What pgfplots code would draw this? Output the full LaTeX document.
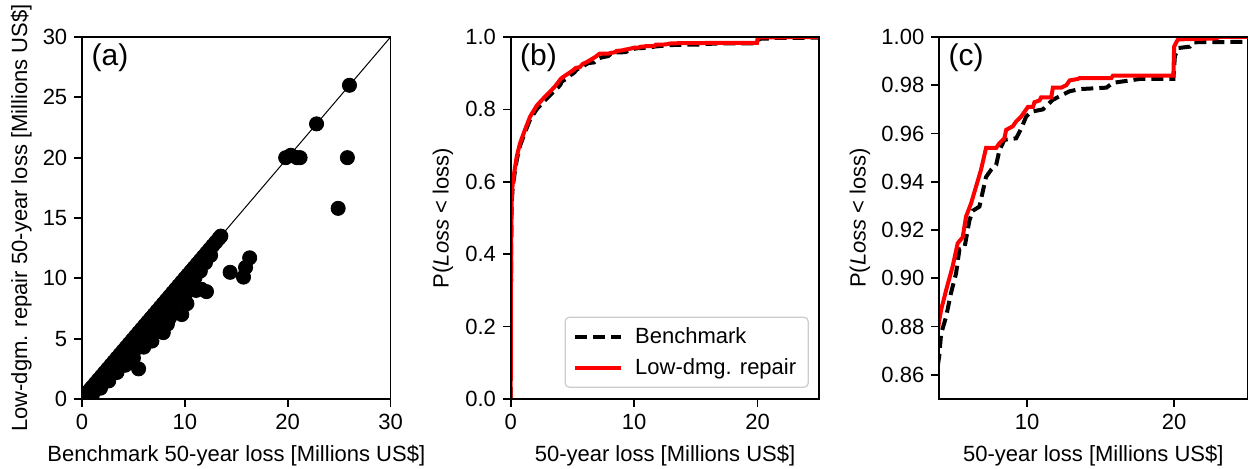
\documentclass[border=0pt]{standalone}
\usepackage{fontspec}
\setmainfont{Liberation Sans}
\usepackage{pgfplots}
\usepackage{pgfplotstable}
\pgfplotsset{compat=1.18}

\pgfplotstableread{
x y
0 0
0.2 0.2
0.4 0.4
0.6 0.6
0.8 0.8
1 1
1.3 1.3
1.6 1.6
1.9 1.9
2.2 2.2
2.5 2.5
2.8 2.8
3.1 3.1
3.4 3.4
3.7 3.7
4 4
4.3 4.3
4.6 4.6
4.9 4.9
5.2 5.2
5.5 5.5
5.8 5.8
6.1 6.1
6.4 6.4
6.7 6.7
7 7
7.3 7.3
7.6 7.6
7.9 7.9
8.2 8.2
8.5 8.5
8.8 8.8
9.1 9.1
9.4 9.4
9.7 9.7
10 10
10.3 10.3
10.6 10.6
10.9 10.9
11.2 11.2
11.5 11.5
11.8 11.8
12.1 12.1
12.4 12.4
12.7 12.7
13 13
13.3 13.3
13.5 13.5
0.5 0.4
1 0.9
1.5 1.35
2 1.8
2.5 2.25
3 2.7
3.5 3.15
4 3.6
4.5 4.05
5 4.5
5.5 4.95
6 5.4
6.5 5.85
7 6.3
7.5 6.75
8 7.2
8.5 7.65
9 8.1
9.5 8.6
10 9.1
10.5 9.5
11 10.1
11.5 10.6
12 11.3
12.5 11.9
1 0.6
1.5 1.1
2 1.5
2.5 1.9
3 2.3
3.5 2.7
4 3.1
4.5 3.5
5 3.9
5.5 4.3
6 4.7
6.5 5.1
7 5.5
7.5 5.9
8 6.3
8.5 6.7
9 7.2
0.6 0.1
1 0.3
1.8 0.9
2.6 1.5
3.4 2.2
4.2 2.8
5 3.4
6 4.3
6.8 4.8
7.9 5.5
8.3 6.2
5.5 2.5
9.7 7.0
10.2 7.9
10.0 8.5
11.1 9.0
12.1 8.9
11.6 9.1
14.4 10.5
15.7 10.1
15.9 10.9
16.3 11.7
19.8 20
20.3 20.2
20.9 20
21.2 20
22.8 22.8
26 26
25.8 20
24.9 15.8
}\scatterdata

\pgfplotstableread{
x y
0 0
0.02 0.3
0.05 0.48
0.08 0.54
0.15 0.58
0.22 0.60
0.35 0.63
0.49 0.66
0.76 0.70
1.16 0.737
1.57 0.772
2.1 0.80
2.5 0.815
2.92 0.83
3.3 0.843
3.6 0.853
3.9 0.863
4.02 0.868
4.14 0.877
4.48 0.884
4.82 0.894
5.16 0.902
5.39 0.912
5.73 0.9125
6.07 0.924
6.30 0.928
6.75 0.9297
7.2 0.942
7.55 0.945
7.89 0.947
8.11 0.953
8.45 0.9574
9.25 0.958
9.59 0.962
9.93 0.967
10.27 0.969
11.07 0.970
11.75 0.974
12.2 0.9754
12.89 0.9775
13.57 0.9784
15.39 0.979
15.84 0.981
17.66 0.9826
19.95 0.9826
20.05 0.992
20.27 0.9954
21.07 0.996
21.3 0.9978
25 0.998
}\bench

\pgfplotstableread{
x y
0 0
0.02 0.3
0.05 0.5
0.08 0.55
0.15 0.59
0.22 0.61
0.35 0.64
0.49 0.67
0.76 0.707
1.16 0.744
1.57 0.78
2.1 0.81
2.5 0.825
2.92 0.84
3.3 0.853
3.6 0.864
4.02 0.8827
4.14 0.8868
4.48 0.895
4.93 0.905
5.27 0.9145
5.61 0.917
5.84 0.9256
6.18 0.931
6.52 0.938
6.86 0.945
7.2 0.954
7.89 0.954
8.11 0.956
8.45 0.958
8.57 0.9615
9.02 0.963
9.25 0.965
9.59 0.967
10.05 0.971
10.39 0.971
10.5 0.973
10.84 0.9737
10.95 0.975
11.64 0.975
11.75 0.979
12.32 0.979
12.66 0.980
12.89 0.982
13.45 0.9826
13.57 0.983
15.73 0.983
15.84 0.984
19.95 0.984
20.0 0.996
20.16 0.998
20.27 0.999
22.9 0.9994
23.0 1.0
25 1.0
}\lowdmg

\pgfplotsset{
  panel/.style={
    scale only axis, width=154.3pt, height=181pt,
    axis line style={line width=0.85pt},
    every tick/.style={line width=0.85pt, black},
    major tick length=3.85pt, tick align=outside, tick pos=left,
    tick label style={font=\fontsize{11}{13}\selectfont},
    label style={font=\fontsize{11}{13}\selectfont},
    /pgf/number format/assume math mode=true,
    xlabel style={at={(axis description cs:0.5,-0.173)}, anchor=base},
    axis on top,
    clip marker paths=true,
  },
  cdfb/.style={black, line width=2pt, dash pattern=on 6pt off 3pt},
  cdfr/.style={red, line width=2pt},
}

\begin{document}
\begin{tikzpicture}
\useasboundingbox (0,0) rectangle (624pt,234pt);

% (a)
\begin{axis}[panel, at={(41pt,34.5pt)}, anchor=south west,
  xmin=0, xmax=30, ymin=0, ymax=30,
  xtick={0,10,20,30}, ytick={0,5,10,15,20,25,30},
  xlabel={Benchmark 50-year loss [Millions US\$]},
  ylabel={Low-dgm. repair 50-year loss [Millions US\$]},
  ylabel style={at={(axis description cs:-0.197,0.5)}, anchor=center},
]
\addplot[black, line width=0.5pt] coordinates {(0,0) (30,30)};
\addplot[only marks, mark=*, mark size=3.55pt, black, mark options={fill=black}] table[x=x,y=y] {\scatterdata};
\node[font=\fontsize{15}{18}\selectfont] at (axis description cs:0.0906,0.942) {(a)};
\end{axis}

% (b)
\begin{axis}[panel, at={(255.35pt,34.5pt)}, anchor=south west,
  xmin=0, xmax=25, ymin=0, ymax=1,
  xtick={0,10,20}, ytick={0,0.2,0.4,0.6,0.8,1.0},
  yticklabel style={/pgf/number format/.cd, fixed, fixed zerofill, precision=1},
  xlabel={50-year loss [Millions US\$]},
  ylabel={P(\textit{Loss} < loss)},
  ylabel style={at={(axis description cs:-0.22,0.5)}, anchor=center},
  legend cell align=left,
  legend image code/.code={\draw[#1] (0pt,0pt) -- (23pt,0pt); \path (27pt,0pt);},
  legend style={at={(axis description cs:0.966,0.031)}, anchor=south east,
    draw=black!20, rounded corners=2pt, line width=0.6pt,
    font=\fontsize{11}{13}\selectfont, row sep=2pt,
    inner xsep=4pt, inner ysep=3pt},
]
\addplot[cdfb] table[x=x,y=y] {\bench};
\addlegendentry{Benchmark}
\addplot[cdfr] table[x=x,y=y] {\lowdmg};
\addlegendentry{Low-dmg. repair}
\node[font=\fontsize{15}{18}\selectfont] at (axis description cs:0.09,0.942) {(b)};
\end{axis}

% (c)
\begin{axis}[panel, at={(469.5pt,34.5pt)}, anchor=south west,
  xmin=4, xmax=25, ymin=0.85, ymax=1,
  xtick={10,20}, ytick={0.86,0.88,0.90,0.92,0.94,0.96,0.98,1.00},
  yticklabel style={/pgf/number format/.cd, fixed, fixed zerofill, precision=2},
  xlabel={50-year loss [Millions US\$]},
  ylabel={P(\textit{Loss} < loss)},
  ylabel style={at={(axis description cs:-0.256,0.5)}, anchor=center},
]
\addplot[cdfb] table[x=x,y=y] {\bench};
\addplot[cdfr] table[x=x,y=y] {\lowdmg};
\node[font=\fontsize{15}{18}\selectfont] at (axis description cs:0.0877,0.942) {(c)};
\end{axis}
\end{tikzpicture}
\end{document}
